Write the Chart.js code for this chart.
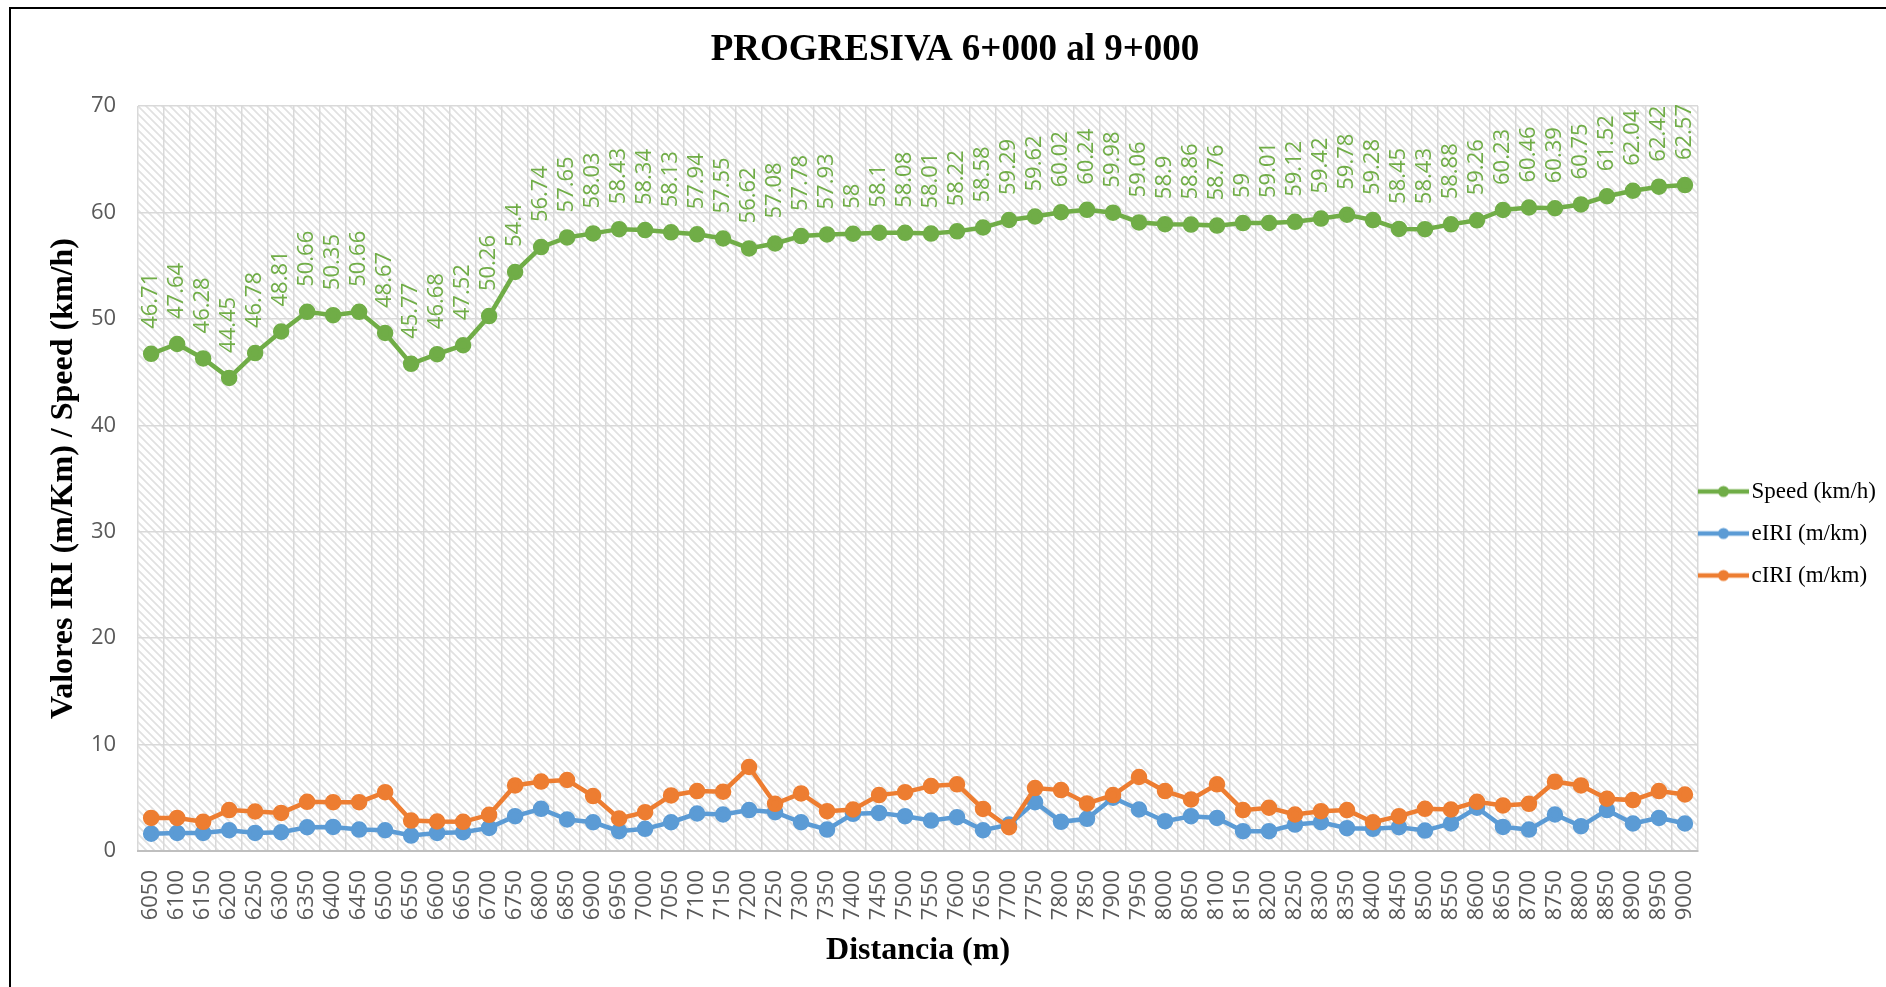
<!DOCTYPE html>
<html>
<head>
<meta charset="utf-8">
<title>PROGRESIVA 6+000 al 9+000</title>
<script src="https://cdn.jsdelivr.net/npm/chart.js@4.4.1/dist/chart.umd.min.js"></script>
<style>
  html, body { margin: 0; padding: 0; background: #fff; overflow: hidden; }
  #wrap { position: relative; width: 1886px; height: 987px; }
  #frame { position: absolute; left: 9px; top: 7px; width: 2000px; height: 1100px; border: 2px solid #000; pointer-events: none; }
</style>
</head>
<body>
<div id="wrap">
  <canvas id="chart" width="1886" height="987"></canvas>
  <div id="frame"></div>
</div>
<script>
// distancia (m)
const distancias = [
  '6050', '6100', '6150', '6200', '6250', '6300', '6350', '6400', '6450', '6500',
  '6550', '6600', '6650', '6700', '6750', '6800', '6850', '6900', '6950', '7000',
  '7050', '7100', '7150', '7200', '7250', '7300', '7350', '7400', '7450', '7500',
  '7550', '7600', '7650', '7700', '7750', '7800', '7850', '7900', '7950', '8000',
  '8050', '8100', '8150', '8200', '8250', '8300', '8350', '8400', '8450', '8500',
  '8550', '8600', '8650', '8700', '8750', '8800', '8850', '8900', '8950', '9000'
];

const speed = [
  46.71, 47.64, 46.28, 44.45, 46.78, 48.81, 50.66, 50.35, 50.66, 48.67,
  45.77, 46.68, 47.52, 50.26, 54.4, 56.74, 57.65, 58.03, 58.43, 58.34,
  58.13, 57.94, 57.55, 56.62, 57.08, 57.78, 57.93, 58, 58.1, 58.08,
  58.01, 58.22, 58.58, 59.29, 59.62, 60.02, 60.24, 59.98, 59.06, 58.9,
  58.86, 58.76, 59, 59.01, 59.12, 59.42, 59.78, 59.28, 58.45, 58.43,
  58.88, 59.26, 60.23, 60.46, 60.39, 60.75, 61.52, 62.04, 62.42, 62.57
];

const eIRI = [
  1.63, 1.70, 1.70, 1.95, 1.70, 1.76, 2.23, 2.26, 2.01, 1.95,
  1.45, 1.70, 1.76, 2.17, 3.27, 3.96, 2.96, 2.70, 1.86, 2.08,
  2.70, 3.52, 3.43, 3.84, 3.65, 2.70, 2.01, 3.49, 3.58, 3.27,
  2.86, 3.18, 1.95, 2.48, 4.59, 2.74, 3.02, 5.00, 3.90, 2.80,
  3.27, 3.11, 1.86, 1.86, 2.48, 2.70, 2.14, 2.08, 2.23, 1.92,
  2.58, 4.06, 2.26, 2.01, 3.43, 2.33, 3.84, 2.58, 3.11, 2.58
];

const cIRI = [
  3.11, 3.11, 2.74, 3.84, 3.71, 3.58, 4.62, 4.59, 4.59, 5.53,
  2.86, 2.77, 2.74, 3.40, 6.16, 6.52, 6.67, 5.16, 3.05, 3.65,
  5.22, 5.63, 5.57, 7.89, 4.43, 5.41, 3.74, 3.90, 5.25, 5.53,
  6.10, 6.26, 3.95, 2.23, 5.91, 5.72, 4.47, 5.25, 6.95, 5.63,
  4.84, 6.26, 3.84, 4.06, 3.43, 3.74, 3.84, 2.70, 3.27, 3.96,
  3.90, 4.62, 4.28, 4.43, 6.51, 6.16, 4.91, 4.78, 5.63, 5.31
];

const yMin = 0;
const yMax = 70;
const yStep = 10;

const GREEN = '#70AD47';
const BLUE = '#5B9BD5';
const ORANGE = '#ED7D31';
const TICK_FONT = { family: 'Open Sans', size: 22 };
const SERIF = 'Liberation Serif';

// diagonal hatch behind the plot area
function hatchTile() {
  const c = document.createElement('canvas');
  c.width = 8;
  c.height = 8;
  const g = c.getContext('2d');
  g.fillStyle = '#fff';
  g.fillRect(0, 0, 8, 8);
  g.strokeStyle = '#e1e1e1';
  g.lineWidth = 1.7;
  g.beginPath();
  g.moveTo(-2, -2); g.lineTo(10, 10);
  g.moveTo(-2, 6); g.lineTo(2, 10);
  g.moveTo(6, -2); g.lineTo(10, 2);
  g.stroke();
  return c;
}

const plotBackground = {
  id: 'plotBackground',
  beforeDraw(chart) {
    const { ctx, chartArea: a } = chart;
    ctx.save();
    ctx.fillStyle = ctx.createPattern(hatchTile(), 'repeat');
    ctx.fillRect(a.left, a.top, a.right - a.left, a.bottom - a.top);
    ctx.restore();
  }
};

// vertical value labels over the speed line
const speedLabels = {
  id: 'speedLabels',
  afterDatasetsDraw(chart) {
    const { ctx } = chart;
    const meta = chart.getDatasetMeta(0);
    ctx.save();
    ctx.font = '22px "Open Sans"';
    ctx.fillStyle = GREEN;
    ctx.textAlign = 'left';
    ctx.textBaseline = 'middle';
    meta.data.forEach((pt, i) => {
      ctx.save();
      ctx.translate(pt.x, pt.y - 25);
      ctx.rotate(-Math.PI / 2);
      ctx.fillText(String(speed[i]), 0, 0);
      ctx.restore();
    });
    ctx.restore();
  }
};

// line + marker sample for the legend
function legendSample(color) {
  const c = document.createElement('canvas');
  c.width = 61;
  c.height = 14;
  const g = c.getContext('2d');
  g.strokeStyle = color;
  g.lineWidth = 4.5;
  g.beginPath();
  g.moveTo(0, 7);
  g.lineTo(51, 7);
  g.stroke();
  g.fillStyle = color;
  g.beginPath();
  g.arc(25.5, 7, 5.5, 0, Math.PI * 2);
  g.fill();
  return c;
}

const lineStyle = (color) => ({
  borderColor: color,
  backgroundColor: color,
  pointBackgroundColor: color,
  pointBorderColor: color,
  borderWidth: 4.5,
  pointRadius: 6,
  tension: 0
});

new Chart(document.getElementById('chart'), {
  type: 'line',
  data: {
    labels: distancias,
    datasets: [
      { label: 'Speed (km/h)', data: speed, order: 2, ...lineStyle(GREEN) },
      { label: 'eIRI (m/km)', data: eIRI, order: 1, ...lineStyle(BLUE) },
      { label: 'cIRI (m/km)', data: cIRI, order: 0, ...lineStyle(ORANGE) }
    ]
  },
  options: {
    responsive: false,
    animation: false,
    layout: { padding: { left: 24, right: 0, top: 0, bottom: 0 } },
    plugins: {
      tooltip: { enabled: false },
      title: {
        display: true,
        text: 'PROGRESIVA 6+000 al 9+000',
        color: '#000',
        font: { family: SERIF, size: 37, weight: 'bold' },
        padding: { top: 28, bottom: 33.6 }
      },
      legend: {
        position: 'right',
        title: { display: true, text: '', padding: 34, font: { size: 10 } },
        labels: {
          usePointStyle: true,
          pointStyleWidth: 23,
          padding: 19,
          font: { family: SERIF, size: 23 },
          generateLabels(chart) {
            return chart.data.datasets.map((ds, i) => ({
              text: ds.label,
              pointStyle: legendSample(ds.borderColor),
              fillStyle: ds.borderColor,
              strokeStyle: ds.borderColor,
              fontColor: '#000',
              lineWidth: 0,
              hidden: false,
              datasetIndex: i
            }));
          }
        }
      }
    },
    scales: {
      x: {
        offset: true,
        grid: { offset: true, color: '#d9d9d9', lineWidth: 1.5, drawTicks: false },
        border: { color: '#bfbfbf', width: 2 },
        ticks: {
          autoSkip: false,
          minRotation: 90,
          maxRotation: 90,
          padding: 19,
          color: '#595959',
          font: TICK_FONT
        },
        title: {
          display: true,
          text: 'Distancia (m)',
          color: '#000',
          font: { family: SERIF, size: 32, weight: 'bold' },
          padding: { top: -7.5, bottom: 16.8 }
        }
      },
      y: {
        min: yMin,
        max: yMax,
        grid: { color: '#d9d9d9', lineWidth: 1.5, drawTicks: false },
        border: { display: false },
        ticks: { stepSize: yStep, padding: 22, color: '#595959', font: TICK_FONT },
        title: {
          display: true,
          text: 'Valores IRI (m/Km) / Speed (km/h)',
          color: '#000',
          font: { family: SERIF, size: 32, weight: 'bold' },
          padding: { top: 20.8, bottom: -14.2 }
        }
      }
    }
  },
  plugins: [plotBackground, speedLabels]
});
</script>
</body>
</html>
